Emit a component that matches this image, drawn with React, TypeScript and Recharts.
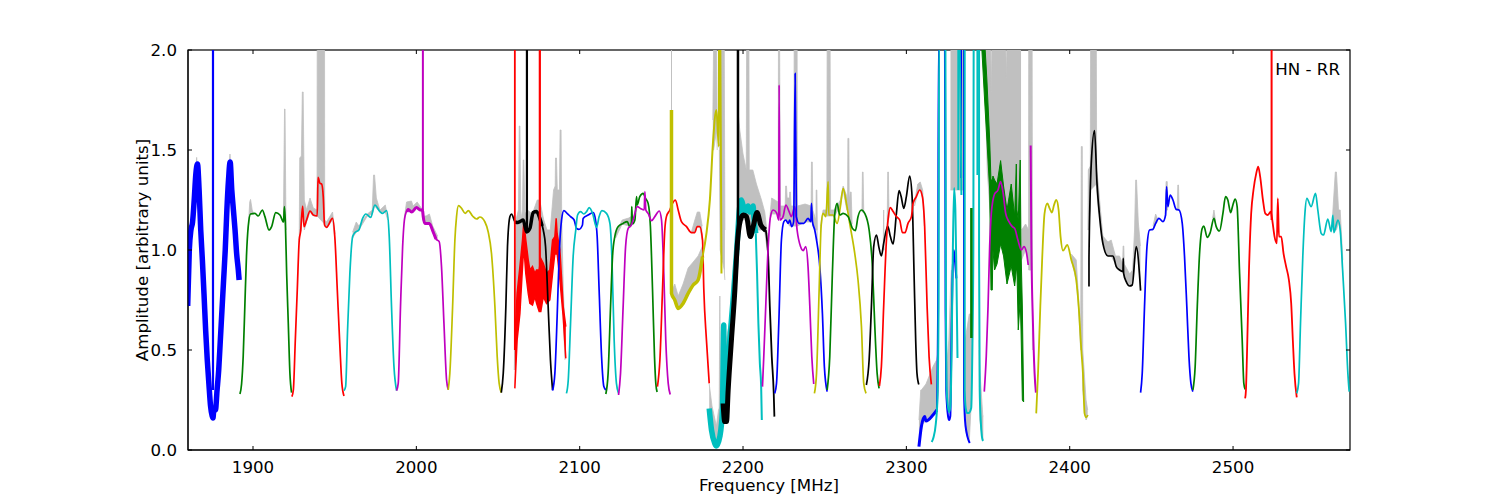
import React from 'react';
import { ComposedChart, Line, Area, XAxis, YAxis, Label, ReferenceLine } from 'recharts';

type P = [number, number];
type B = [number, number, number];

const xTicks = [1900, 2000, 2100, 2200, 2300, 2400, 2500];
const yTicks = [0, 0.5, 1, 1.5, 2];
const annotation = 'HN - RR';

// ---- grey envelope [freq, low, high]
const grayA: B[] = [[1863,1.15,1.2],[1865.5,1.4,1.463],[1868,1.1,1.15]];
const grayA2: B[] = [[1884,1.25,1.3],[1885.9,1.4,1.48],[1888,1.15,1.2]];
const grayB: B[] = [[1897,1.1,1.1],[1898,1.18,1.24],[1898.5,1.18,1.253],[1899.5,1.18,1.2],[1900.5,1.18,1.18]];
const grayC: B[] = [[1918.6,1.14,1.14],[1919.3,1.14,1.705],[1919.6,1.14,1.705],[1920.2,1.1,1.1]];
const grayD: B[] = [[1928.3,1.05,1.05],[1928.6,1.08,1.46],[1929.6,1.1,1.47],[1930.2,1.2,1.79],[1930.7,1.2,1.79],[1931.4,1.1,1.25],[1932.8,1.14,1.2],[1934.9,1.19,1.26],[1936.9,1.17,1.21],[1939.2,1.17,1.2],[1939.3,1.17,2.05],[1943.8,1.13,2.05],[1943.9,1.12,1.15],[1945,1.11,1.14],[1948.7,1.15,1.19],[1950.2,1.05,1.08]];
const grayE: B[] = [[1961,1.06,1.09],[1963.2,1.09,1.14],[1964.8,1.1,1.12],[1970,1.17,1.18],[1973,1.18,1.2],[1973.8,1.2,1.375],[1974.4,1.22,1.375],[1975.5,1.21,1.26],[1977.7,1.19,1.2],[1981,1.19,1.225],[1982.5,1.15,1.16]];
const grayF: B[] = [[1992.8,1.15,1.17],[1994,1.2,1.24],[1997,1.19,1.245],[1998,1.2,1.22],[2000.5,1.21,1.24],[2003,1.2,1.21],[2004.5,1.15,1.17],[2006,1.13,1.17],[2008,1.13,1.18],[2010,1.09,1.12],[2013,1.05,1.07]];
const grayG: B[] = [[2060,0.4,0.4],[2061,0.7,1.15],[2062.5,0.7,1.2],[2063,0.7,1.62],[2063.4,0.85,1.62],[2064,0.9,1.15],[2065,1.0,1.2],[2065.4,1.0,1.45],[2065.8,1.0,1.45],[2066.5,1.0,1.18],[2068,0.85,1.2],[2071,0.8,1.18],[2074,0.8,1.25],[2075.5,0.8,1.25],[2078,0.85,1.15],[2080,0.85,1.1],[2082,0.85,1.1],[2083,0.9,1.2],[2084,1,1.3],[2085,1,1.32],[2085.2,1,1.46],[2085.8,1,1.46],[2086.3,1,1.3],[2087.6,1,1.3],[2088,1,1.6],[2088.6,1,1.6],[2089,0.8,1.15],[2090,0.65,0.8],[2091,0.45,0.6]];
const grayH: B[] = [[2122,1.06,1.08],[2126,1.13,1.15],[2130,1.12,1.16],[2132,1.14,1.17]];
const grayI: B[] = [[2155.9,1.7,2.05],[2156.5,1.7,2.05]];
const grayJ: B[] = [[2156.8,0.78,0.8],[2158.2,0.75,0.83],[2160.3,0.71,0.77],[2163.3,0.73,0.83],[2166.4,0.78,0.91],[2169.5,0.82,0.94],[2172.5,0.85,0.97],[2175.2,0.97,1.02]];
const grayK: B[] = [[2168.4,1.087,1.09],[2170.5,1.087,1.15],[2172,1.117,1.19],[2173.5,1.117,1.19],[2175,1.05,1.12]];
const grayL: B[] = [[2181.5,1.5,1.65],[2182,1.5,2.05],[2183.8,1.6,2.05],[2184.2,1.5,1.6]];
const grayM: B[] = [[2185.5,1.5,2.05],[2186,1.0,2.05],[2188.5,0.9,2.05],[2188.9,0.85,1.1]];
const grayN: B[] = [[2185.4,0.2,0.2],[2185.8,0.2,0.77],[2186.2,0.2,0.2]];
const grayO: B[] = [[2179.3,0.1,0.33],[2181,0.1,0.22],[2183.7,0.02,0.12],[2185,0.1,0.2],[2187.5,0.2,0.24],[2188.5,0.3,0.5],[2192,0.55,0.65],[2194,0.78,0.9]];
const grayP: B[] = [[2197.2,1.1,1.67],[2198,1.15,1.6],[2200,1.15,1.48],[2202,1.15,1.4],[2202.2,1.15,2.05],[2203.6,1.15,2.05],[2203.8,1.15,1.4],[2206,1.1,1.4],[2208.2,1.1,1.33],[2211.3,1.1,1.25],[2213.3,1.09,1.19],[2214.8,1.0,1.08]];
const grayQ: B[] = [[2216.5,1.15,1.17],[2217.5,1.18,1.26],[2221.5,1.18,1.24],[2221.7,1.18,2.05],[2222.4,1.18,2.05],[2222.8,1.17,1.22],[2225.8,1.15,1.22],[2226.1,1.15,1.32],[2226.6,1.15,1.32],[2227,1.15,1.26],[2228.4,1.12,1.26],[2228.6,1.12,1.29],[2229,1.12,1.29],[2229.4,1.12,1.22],[2231.2,1.12,1.22],[2231.3,1.12,2.05],[2233.1,1.12,2.05],[2233.3,1.12,1.22],[2238,1.14,1.23],[2241.7,1.14,1.22],[2241.9,1.14,1.44],[2242.4,1.14,1.44],[2242.7,1.12,1.2],[2244.6,1.1,1.15],[2244.8,1.1,1.3],[2245.2,1.1,1.3],[2245.5,1.05,1.1]];
const grayR: B[] = [[2247.5,1.1,1.12],[2249,1.18,1.2],[2251.3,1.17,1.2],[2251.5,1.17,2.05],[2253.3,1.17,2.05],[2253.6,1.17,1.2],[2256,1.17,1.2],[2259.6,1.22,1.25],[2261.3,1.3,1.32],[2263.5,1.2,1.27],[2264,1.2,1.25],[2264.2,1.2,1.558],[2264.8,1.2,1.558],[2265,1.15,1.25],[2265.7,1.15,1.29],[2266.2,1.13,1.29],[2266.8,1.1,1.13]];
const grayS: B[] = [[2272.8,1.19,1.19],[2273.1,1.19,1.39],[2273.5,1.19,1.39],[2273.9,1.19,1.19]];
const grayT: B[] = [[2285.8,1,1],[2286.1,1,1.2],[2286.4,1,1]];
const grayU: B[] = [[2288.2,1.1,1.1],[2288.6,1.12,1.39],[2289,1.15,1.39],[2289.4,1.17,1.17]];
const grayV: B[] = [[2305,1.22,1.24],[2307,1.29,1.33],[2308.5,1.3,1.34],[2310,1.26,1.3],[2311,1.12,1.15]];
const grayW: B[] = [[2307.7,0.03,0.15],[2308.8,0.1,0.3],[2309.2,0.12,0.3],[2312,0.15,0.33],[2316.3,0.18,0.417],[2318.5,0.2,0.45],[2319.6,0.3,0.5]];
const grayX: B[] = [[2327,1.3,2.05],[2334,1.3,2.05],[2335.5,1.3,2.05]];
const grayY: B[] = [[2324.5,0.22,0.4],[2326,0.19,0.55],[2327,0.25,0.8],[2327.5,0.5,0.9]];
const grayZ: B[] = [[2336,0.1,0.55],[2338.5,0.04,0.68],[2339.5,0.2,0.68],[2340.3,0.4,0.6]];
const grayAA: B[] = [[2344.5,0.5,0.55],[2345,0.15,0.4],[2346.8,0.05,0.17],[2347.1,0.05,0.17]];
const grayAB: B[] = [[2348,1.9,2.05],[2349.5,1.4,2.05],[2351.6,1.15,2.05],[2352,1.15,1.79],[2352.4,1.15,2.05],[2360.8,1.15,2.05],[2361.2,1.15,1.86],[2361.6,1.15,2.05],[2370.2,1.1,2.05]];
const grayAC: B[] = [[2370.5,0.95,1.1],[2373,1.0,1.13],[2374.8,0.95,1.1],[2374.9,0.9,2.05],[2377,0.9,2.05],[2377.2,0.5,0.9]];
const grayAD: B[] = [[2401,0.95,0.98],[2404,0.85,0.95],[2405.5,0.7,0.75],[2406.7,0.5,0.55],[2407.1,0.5,1.517],[2407.7,0.5,1.517],[2408,0.3,0.5],[2410,0.15,0.25],[2411,0.17,0.2]];
const grayAE: B[] = [[2411.2,1.1,1.1],[2411.4,1.1,1.4],[2412.6,1.2,1.42],[2412.8,1.3,2.05],[2416.3,1.33,2.05],[2416.5,1.3,1.4],[2417.5,1.2,1.33],[2418.5,1.17,1.23],[2420.3,1.03,1.07],[2423.4,0.97,1.04],[2425.4,0.97,1.05],[2428,0.93,0.97],[2430.5,0.9,0.97],[2432.4,0.89,0.93],[2432.7,0.89,1.02],[2433.1,0.89,1.02],[2433.4,0.87,0.93],[2436.7,0.82,0.88],[2438.5,0.83,0.9],[2439.7,0.93,1.1],[2440.4,1.02,1.35],[2440.9,1.02,1.35],[2442,0.97,1.14],[2443.3,0.8,1.02]];
const grayAF: B[] = [[2451,1.1,1.12],[2452.6,1.13,1.18],[2453.6,1.14,1.16]];
const grayAG: B[] = [[2458.5,1.17,1.18],[2459,1.2,1.342],[2459.7,1.2,1.342],[2460.1,1.2,1.22]];
const grayAH: B[] = [[2465.8,1.2,1.2],[2466.2,1.2,1.325],[2466.6,1.2,1.325],[2467,1.2,1.2]];
const grayAI: B[] = [[2487.5,1.15,1.16],[2488.3,1.16,1.2],[2489.2,1.13,1.15]];
const grayAJ: B[] = [[2561,1.1,1.18],[2562.6,1.1,1.39],[2563.3,1.1,1.39],[2564.6,1.14,1.2],[2565.6,1.1,1.2],[2567.2,0.88,0.95]];

// ---- solid noise bands
const greenBand: B[] = [[2345.9,2.05,2.05],[2347.9,1.75,2.05],[2349.3,1.55,1.85],[2351,1.3,1.55],[2351.8,0.8,1.35],[2352.6,0.8,1.35],[2353,1.0,1.37],[2354,0.9,1.35],[2355.5,0.93,1.33],[2357.7,1.03,1.447],[2359.5,0.97,1.32],[2361.6,0.83,1.2],[2364.2,0.92,1.33],[2366.3,0.82,1.17],[2367.3,0.9,1.43],[2367.7,0.9,1.2],[2368.5,0.6,1.15],[2369.7,0.75,1.45],[2370.2,0.6,1.0],[2371,0.25,0.72],[2371.8,0.24,0.24]];
const redBand: B[] = [[2060.3,0.308,0.55],[2061.7,0.55,0.783],[2063.4,0.683,0.917],[2065,0.917,1.05],[2065.8,1.017,1.142],[2067,0.883,1.05],[2068.5,0.783,0.95],[2069.5,0.733,0.9],[2071.1,0.725,0.917],[2072.6,0.767,0.883],[2073.6,0.733,0.9],[2075.2,0.692,0.9],[2076.2,0.692,0.958],[2077.7,0.767,0.933],[2079.7,0.733,0.883],[2081.7,0.75,0.9],[2083.4,0.883,1.05],[2084.8,0.983,1.067],[2085.6,0.98,1.158],[2086.2,0.983,1.08],[2087.9,0.85,1.0],[2089.9,0.667,0.717],[2091.5,0.458,0.617]];

// ---- traces [freq, amplitude]
const blue1: P[] = [[1860,0.72],[1861,1.0],[1862,1.1],[1863,1.14],[1864,1.25],[1865,1.38],[1866,1.43],[1867,1.3],[1868,1.1],[1869,0.95],[1870,0.78],[1871,0.6],[1872,0.45],[1873,0.33],[1874,0.22],[1875,0.17],[1875.5,0.16],[1876,0.2],[1877,0.2],[1878,0.3],[1879,0.4],[1880,0.55],[1881,0.7],[1882,0.85],[1883,1.0],[1884,1.2],[1885,1.35],[1886,1.44],[1887,1.3],[1888,1.2],[1889,1.1],[1890,0.98],[1891,0.9],[1891.5,0.85]];
const blueSpike: P[] = [[1875.5,0.3],[1875.5,2.5]];
const green1: P[] = [[1892,0.28],[1893,0.33],[1894,0.47],[1895,0.72],[1896,0.97],[1897.1,1.12],[1898.5,1.18],[1901.2,1.183],[1903.2,1.17],[1905.7,1.2],[1907.3,1.167],[1909.8,1.1],[1911.4,1.117],[1913.9,1.187],[1916.5,1.175],[1918.7,1.14],[1919.2,1.217],[1919.8,1.14],[1920.6,0.883],[1921.6,0.633],[1922.6,0.383],[1923.6,0.287]];
const red1: P[] = [[1923.8,0.267],[1924.7,0.3],[1925.9,0.55],[1927.1,0.8],[1928.3,1.05],[1929.1,1.09],[1930.4,1.22],[1931.2,1.117],[1932.8,1.15],[1934.9,1.195],[1936.9,1.175],[1939.3,1.17],[1939.8,1.363],[1941,1.333],[1942,1.33],[1943,1.267],[1943.8,1.125],[1945,1.113],[1948.7,1.158],[1950.2,1.05],[1951.6,0.8],[1953.2,0.517],[1954.4,0.333],[1955.7,0.27]];
const cyan1: P[] = [[1955.7,0.297],[1956.7,0.317],[1957.9,0.6],[1959.3,0.883],[1961,1.067],[1962.4,1.087],[1964.8,1.1],[1967.1,1.158],[1969.1,1.18],[1972,1.163],[1974.6,1.225],[1977.7,1.192],[1979.3,1.183],[1981.8,1.197],[1983.4,1.067],[1984.8,0.717],[1986.3,0.417],[1987.9,0.297]];
const magenta1: P[] = [[1987.9,0.297],[1988.9,0.333],[1990.3,0.717],[1991.6,1.017],[1993,1.167],[1995,1.203],[1997.1,1.19],[2000.1,1.212],[2002.6,1.2],[2003.8,1.2],[2004.2,1.167],[2005.2,1.133],[2007.9,1.133],[2010.3,1.09],[2012,1.055],[2014,1.042],[2015.4,0.917],[2016.9,0.633],[2018.5,0.35],[2019.5,0.303]];
const magenta1Thick: P[] = [[1994.2,1.19],[1995,1.203],[1997.1,1.19],[2000.1,1.212],[2002.6,1.2],[2003.8,1.2],[2004.2,1.167],[2005.2,1.133],[2007.9,1.133],[2010.3,1.09],[2012,1.055]];
const magentaSpike: P[] = [[2004,1.2],[2004,2.5]];
const yellow1: P[] = [[2019.5,0.3],[2020.5,0.383],[2022.2,0.717],[2023.6,1.05],[2024.6,1.167],[2025.8,1.222],[2027.7,1.208],[2029.9,1.183],[2031.8,1.197],[2034.4,1.17],[2036.9,1.155],[2038.9,1.165],[2042,1.14],[2044,1.09],[2046,0.983],[2048.1,0.717],[2049.5,0.467],[2050.7,0.333],[2052,0.287]];
const black1: P[] = [[2052,0.287],[2053.2,0.383],[2054.8,0.717],[2055.8,1.017],[2057.3,1.167],[2058.3,1.18],[2060.3,1.142],[2061.3,1.137],[2063.4,1.142],[2065.4,1.15],[2067.5,1.09],[2069.5,1.108],[2071.5,1.187],[2073.6,1.192],[2075.6,1.158],[2077.7,1.1],[2079.1,1.017],[2080.7,0.717],[2082.1,0.45],[2083.4,0.3]];
const black1Thick: P[] = [[2060.3,1.142],[2061.3,1.137],[2063.4,1.142],[2065.4,1.15],[2067.5,1.09],[2069.5,1.108],[2071.5,1.187],[2073.6,1.192],[2075.6,1.158],[2077,1.12]];
const blackSpike1: P[] = [[2067.7,1.1],[2067.7,2.5]];
const blue2: P[] = [[2083.4,0.297],[2084.8,0.383],[2086.2,0.667],[2087.5,0.983],[2088.9,1.15],[2090.3,1.197],[2092.3,1.183],[2094.4,1.167],[2096.6,1.15],[2098.1,1.108],[2099.5,1.103],[2101.7,1.125],[2102.1,1.158],[2105.2,1.175],[2108.3,1.187],[2109.3,1.167],[2110.7,1.067],[2111.9,0.8],[2113.4,0.467],[2114.8,0.317],[2116,0.3]];
const cyan2: P[] = [[2091.9,0.283],[2093,0.35],[2094.4,0.633],[2096,0.967],[2097.6,1.1],[2098.7,1.175],[2100.5,1.192],[2102.5,1.18],[2104.2,1.192],[2105.8,1.212],[2107.9,1.183],[2110.3,1.113],[2111.9,1.167],[2113.6,1.197],[2116.4,1.183],[2118.5,1.133],[2119.7,0.967],[2121.1,0.55],[2122.5,0.333],[2123.8,0.283]];
const green2: P[] = [[2116,0.28],[2117.4,0.383],[2118.9,0.717],[2120.1,0.967],[2121.5,1.067],[2123.6,1.117],[2126.6,1.133],[2129.1,1.142],[2130.7,1.117],[2131.7,1.142],[2131.9,1.217],[2132.3,1.13],[2133.8,1.15],[2134.8,1.267],[2135.2,1.225],[2136.8,1.267],[2138.9,1.283],[2140.3,1.258],[2141.9,1.233],[2143.3,1.117],[2144.6,0.8],[2145.8,0.467],[2146.6,0.333],[2147.4,0.29]];
const magenta2: P[] = [[2123.8,0.275],[2125,0.383],[2126.6,0.717],[2128.1,1.017],[2129.7,1.108],[2131.7,1.125],[2133.3,1.167],[2135.2,1.217],[2137.2,1.208],[2139.5,1.2],[2139.9,1.292],[2140.5,1.2],[2141.9,1.183],[2144,1.147],[2146,1.167],[2148.7,1.195],[2150.1,1.15],[2151.5,0.883],[2152.7,0.55],[2154.2,0.333],[2155.4,0.278]];
const red3: P[] = [[2147.6,0.317],[2149.1,0.45],[2150.7,0.8],[2152.1,1.1],[2153.1,1.167],[2155.2,1.2],[2156.8,1.233],[2158.6,1.25],[2160.3,1.2],[2162.3,1.142],[2165.4,1.117],[2168.4,1.087],[2170.5,1.087],[2171.9,1.117],[2173.5,1.117],[2175.2,1.05],[2176,0.8],[2177.6,0.55],[2179.3,0.333]];
const redSpike1: P[] = [[2060.3,0.5],[2060.3,2.5]];
const redSpike2: P[] = [[2075.6,0.8],[2075.6,2.5]];
const yellow2a: P[] = [[2156.2,1.7],[2156.2,0.783],[2158.2,0.75],[2160.3,0.708],[2163.3,0.733],[2166.4,0.783],[2169.5,0.825],[2172.5,0.85],[2175.2,0.967]];
const yellow2b: P[] = [[2175.2,0.967],[2177.6,1.083],[2179.7,1.25],[2181.7,1.55],[2183.7,1.7],[2185.2,1.517],[2185.4,2.5],[2185.8,2.5],[2186.8,0.883]];
const cyan3: P[] = [[2179.3,0.208],[2180.7,0.1],[2182.7,0.033],[2183.7,0.02],[2185.8,0.067],[2187.4,0.2],[2188.2,0.625],[2188.4,0.233],[2189.9,0.317],[2191.9,0.55],[2193.9,0.75],[2196,0.983],[2198,1.217],[2199,1.25],[2200.1,1.22],[2201.1,1.19],[2203.1,1.22],[2204.1,1.19],[2206.2,1.22],[2206.6,1.167],[2207.8,1.083]];
const cyan3b: P[] = [[2207.8,1.083],[2208.6,0.883],[2209.4,0.633],[2210.3,0.433],[2211.1,0.317],[2211.5,0.15]];
const black2: P[] = [[2187.8,0.233],[2188.8,0.142],[2189.9,0.142],[2190.9,0.3],[2192.9,0.55],[2195,0.8],[2196.4,1.017],[2198.4,1.15],[2200.1,1.175],[2202.1,1.167],[2204.5,1.067],[2206.2,1.117],[2208.6,1.187],[2210.9,1.125],[2213.9,1.1]];
const black2b: P[] = [[2213.9,1.1],[2215.4,0.967],[2216.4,0.717],[2217.6,0.467],[2218.8,0.283],[2219.2,0.167]];
const blackSpike2: P[] = [[2196.9,1.0],[2196.9,2.5]];
const magenta3: P[] = [[2211.9,0.317],[2212.7,0.467],[2213.9,0.717],[2215.4,1.017],[2216.8,1.167],[2218.4,1.2],[2220.5,1.187],[2221.9,1.15],[2222.1,1.825],[2222.5,1.15],[2224.5,1.167],[2226.2,1.225],[2228.2,1.192],[2229.6,1.167],[2231.7,1.217],[2233.1,1.1],[2235.2,1.017],[2236.8,0.997],[2238.4,1.017],[2239.8,0.917],[2240.9,0.717],[2242.1,0.467],[2243.3,0.33]];
const blue3: P[] = [[2219.4,0.283],[2220.5,0.333],[2221.9,0.633],[2223.5,1.05],[2225,1.142],[2226.2,1.15],[2227.6,1.133],[2228.6,1.15],[2229.8,1.117],[2231,1.142],[2231.9,1.883],[2232.7,1.167],[2234.3,1.133],[2237.2,1.133],[2239.8,1.158],[2241.5,1.142],[2241.9,1.233],[2242.5,1.142],[2243.9,1.1],[2245,1.05],[2247,0.917],[2248.6,0.683],[2249.8,0.417],[2251.5,0.292]];
const yellow3: P[] = [[2243.7,0.283],[2245,0.383],[2246.6,0.8],[2247.8,1.117],[2249,1.183],[2250.7,1.167],[2252.1,1.342],[2252.5,1.175],[2255.1,1.175],[2257.6,1.133],[2259.6,1.217],[2261.3,1.308],[2263.3,1.233],[2265.3,1.133],[2268.4,0.983],[2270.4,0.85],[2272.5,0.617],[2273.9,0.333],[2275.3,0.283]];
const green3: P[] = [[2251.5,0.3],[2253.1,0.467],[2254.7,0.883],[2256.2,1.183],[2257.6,1.233],[2259.2,1.175],[2261.3,1.183],[2264.3,1.167],[2267,1.108],[2268.8,1.097],[2270.4,1.167],[2272.5,1.2],[2274.5,1.183],[2277.2,1.1],[2279.2,0.917],[2280.6,0.633],[2282.1,0.383],[2283.3,0.308]];
const black3: P[] = [[2275.5,0.325],[2277.2,0.45],[2278.6,0.717],[2280,1.017],[2281.7,1.075],[2283.1,1.017],[2284.7,0.97],[2286.1,1.033],[2288.6,1.12],[2290.2,1.067],[2291.9,1.03],[2293.9,1.183],[2295.5,1.297],[2296.8,1.267],[2298.4,1.208],[2300,1.267],[2302,1.37],[2303.5,1.267],[2304.7,0.883],[2305.7,0.55],[2306.5,0.383],[2307.6,0.328]];
const red4: P[] = [[2283.5,0.32],[2284.7,0.417],[2286.1,0.717],[2287.8,1.05],[2289,1.167],[2290.2,1.212],[2291.9,1.192],[2293.9,1.167],[2295.9,1.15],[2297.6,1.087],[2299.2,1.087],[2301,1.133],[2303.1,1.167],[2304.1,1.233],[2306.1,1.267],[2308.2,1.3],[2309.8,1.267],[2311.2,1.117],[2312.7,0.717],[2313.9,0.467],[2315.3,0.328]];
const blue4a: P[] = [[2307.7,0.017],[2309.2,0.117],[2311.2,0.167],[2312,0.145],[2316.3,0.175],[2318.7,0.2]];
const blue4b: P[] = [[2318.7,0.2],[2319.4,0.7],[2319.8,2.05],[2323.6,2.05],[2324,0.7],[2324.4,0.3],[2325.5,0.17],[2326.2,0.15],[2326.9,0.17],[2327.5,0.5],[2328.2,0.85],[2329,1.0],[2329.7,0.95],[2330.6,0.858]];
const blue5: P[] = [[2333.5,1.36],[2333.5,2.05],[2335.3,2.05],[2335.3,0.3],[2335.9,0.15],[2336.8,0.09],[2338,0.05],[2338.8,0.035]];
const cyan4: P[] = [[2315.5,0.04],[2316.5,0.06],[2318,0.13],[2319,0.25],[2319.7,0.7],[2320,2.05],[2323.9,2.05],[2324.2,0.7],[2324.6,0.32],[2325.4,0.22],[2326.2,0.19],[2327,0.22],[2327.7,0.5],[2328.3,0.9],[2329.2,1.31],[2330,1.2],[2330.6,0.9],[2331.3,0.46]];
const cyan5: P[] = [[2331.8,2.05],[2331.8,1.3]];
const cyan6: P[] = [[2332.6,2.05],[2333.2,1.7],[2333.7,1.275]];
const cyan7: P[] = [[2335.7,2.05],[2335.7,0.3],[2336.3,0.21],[2337.2,0.185],[2338.1,0.185],[2339.7,0.21],[2340.4,0.5],[2341,1.0],[2341.2,2.05]];
const cyan8: P[] = [[2343.5,2.05],[2343.5,1.375]];
const cyan9: P[] = [[2344.5,2.05],[2344.5,1.0],[2344.9,0.3],[2345.5,0.15],[2346.2,0.07],[2346.9,0.045]];
const green4: P[] = [[2339.8,1.21],[2339.8,0.56]];
const magenta4: P[] = [[2347.7,0.292],[2348.9,0.467],[2350,0.717],[2351,1.017],[2352,1.183],[2354,1.28],[2356.1,1.3],[2357.7,1.342],[2359.1,1.292],[2360.8,1.183],[2362.8,1.142],[2364.9,1.117],[2366.3,1.108],[2368.3,1.05],[2370.4,1.0],[2372,1.017],[2373.4,0.992],[2374.6,0.925]];
const magenta5: P[] = [[2376.1,1.523],[2376.5,1.05],[2377.5,0.633],[2378.5,0.383],[2379.3,0.287]];
const yellow4: P[] = [[2379.5,0.183],[2380.6,0.383],[2382,0.717],[2383.2,0.967],[2384.6,1.183],[2386.3,1.233],[2387.7,1.208],[2389.1,1.187],[2390.4,1.225],[2391.8,1.25],[2393.2,1.2],[2394.4,1.067],[2395.9,0.997],[2398.5,1.025],[2401,0.95],[2404,0.85],[2405.5,0.717],[2407.1,0.5],[2408.1,0.383],[2409.1,0.183],[2410.1,0.163],[2411.1,0.175]];
const black4: P[] = [[2411.8,0.817],[2411.8,0.96],[2413.2,1.433],[2415.2,1.597],[2416.7,1.333],[2418.3,1.167],[2420.3,1.033],[2423.4,0.97],[2426.5,0.97],[2428.5,0.917],[2430.5,0.9],[2432.6,0.892],[2432.8,0.958],[2433,0.883],[2434.6,0.842],[2436.7,0.82],[2438.3,0.825],[2440.7,1.017],[2443.4,0.797]];
const blue6: P[] = [[2443.4,0.287],[2444.4,0.383],[2445.8,0.717],[2447.3,1.017],[2448.9,1.1],[2450.9,1.103],[2452.6,1.133],[2454.6,1.158],[2457.1,1.142],[2458.7,1.175],[2459.3,1.317],[2460.1,1.217],[2461.5,1.275],[2463.2,1.25],[2465.2,1.203],[2466.9,1.2],[2468.9,1.133],[2470.3,0.967],[2471.7,0.717],[2473,0.467],[2474.2,0.333],[2475.4,0.292]];
const green5: P[] = [[2475.4,0.3],[2476.8,0.417],[2478.1,0.717],[2479.5,0.983],[2481.1,1.108],[2482.1,1.12],[2484.2,1.063],[2486,1.087],[2488.3,1.158],[2489.7,1.117],[2491.7,1.095],[2493.8,1.183],[2495.4,1.267],[2496.8,1.25],[2498.5,1.187],[2499.9,1.225],[2501.3,1.255],[2502.5,1.217],[2504,0.883],[2505.6,0.55],[2506.6,0.333],[2507.4,0.303]];
const red5: P[] = [[2507.4,0.258],[2507.9,0.3],[2508.5,0.467],[2509.7,0.883],[2511.1,1.183],[2512.5,1.3],[2514.2,1.383],[2515.4,1.417],[2516.6,1.367],[2518.3,1.25],[2519.7,1.183],[2521.3,1.175],[2523.1,1.192],[2524,1.15],[2525.4,1.067],[2526.8,1.033],[2527.4,1.258],[2528.1,1.067],[2529.5,1.067],[2530.9,0.983],[2532.5,0.917],[2534.2,0.85],[2535.6,0.733],[2536.6,0.55],[2537.6,0.383],[2539,0.263]];
const redSpike3: P[] = [[2523.6,1.15],[2523.6,2.5]];
const cyan10: P[] = [[2539,0.283],[2540.1,0.333],[2541.3,0.633],[2542.7,0.967],[2544,1.183],[2545.2,1.258],[2547.8,1.217],[2550.5,1.283],[2551.9,1.2],[2554,1.083],[2555.4,1.075],[2558,1.155],[2560.1,1.092],[2561.1,1.175],[2561.7,1.087],[2564.2,1.15],[2565.6,1.1],[2567.2,0.883],[2568.9,0.633],[2570.3,0.383],[2571.1,0.292]];

const C = { b: '#0000ff', g: '#008000', r: '#ff0000', c: '#00bfbf', m: '#bf00bf', y: '#bfbf00', k: '#000000', gray: '#c0c0c0' };

const toBand = (rows: B[]) => rows.map(([f, lo, hi]) => ({ f, band: [lo, hi] }));
const toLine = (rows: P[]) => rows.map(([f, a]) => ({ f, a }));

const grays = [grayA, grayA2, grayB, grayC, grayD, grayE, grayF, grayG, grayH, grayI, grayJ, grayK, grayL, grayM, grayN, grayO, grayP, grayQ, grayR, grayS, grayT, grayU, grayV, grayW, grayX, grayY, grayZ, grayAA, grayAB, grayAC, grayAD, grayAE, grayAF, grayAG, grayAH, grayAI, grayAJ];

const TH = 1.7;
const traces: [P[], string, number][] = [
  [blue1, C.b, 5.5], [blueSpike, C.b, 2.2],
  [green1, C.g, TH], [red1, C.r, TH], [cyan1, C.c, TH],
  [magenta1, C.m, TH], [magenta1Thick, C.m, 3], [magentaSpike, C.m, 2],
  [yellow1, C.y, TH], [black1, C.k, TH], [black1Thick, C.k, 3.5], [blackSpike1, C.k, 2.2],
  [blue2, C.b, TH], [cyan2, C.c, TH], [green2, C.g, TH], [magenta2, C.m, TH], [red3, C.r, TH],
  [redSpike1, C.r, 1.8], [redSpike2, C.r, 2.2],
  [yellow2a, C.y, 3.5], [yellow2b, C.y, 2],
  [cyan3, C.c, 5.5], [cyan3b, C.c, 2], [black2, C.k, 5], [black2b, C.k, 1.8], [blackSpike2, C.k, 2.5],
  [magenta3, C.m, TH], [blue3, C.b, TH], [yellow3, C.y, TH], [green3, C.g, TH], [black3, C.k, TH], [red4, C.r, TH],
  [blue4a, C.b, 3], [blue4b, C.b, 2], [blue5, C.b, 2],
  [cyan4, C.c, 2], [cyan5, C.c, 2], [cyan6, C.c, 2], [cyan7, C.c, 2], [cyan8, C.c, 2], [cyan9, C.c, 2],
  [green4, C.g, 2.5],
];
const tracesAfterBand: [P[], string, number][] = [
  [magenta4, C.m, TH], [magenta5, C.m, 2], [yellow4, C.y, 1.8], [black4, C.k, TH],
  [blue6, C.b, TH], [green5, C.g, TH], [red5, C.r, 1.8], [redSpike3, C.r, 2], [cyan10, C.c, TH],
];

const FONT = '"DejaVu Sans", sans-serif';
const FS = 16.67;
const XMIN = 1860.2;
const XMAX = 2571.6;
const DOMAIN: [number, number] = [XMIN, XMAX];
const X_TICK_LEN = 2.45; // 4 px along the frequency axis
const Y_TICK_LEN = 0.02; // 4 px along the amplitude axis
const fmtY = (v: number) => v.toFixed(1);

const tickSeg = (a: { x: number; y: number }, b: { x: number; y: number }, key: string) => (
  <ReferenceLine key={key} segment={[a, b]} stroke="#000" strokeWidth={1} ifOverflow="visible" />
);

export default function App() {
  return (
    <div style={{ position: 'absolute', left: 0, top: 0, width: 1500, height: 500, background: '#fff' }}>
      <ComposedChart width={1500} height={500} margin={{ top: 50, right: 150, bottom: 0, left: 128 }} style={{ fontFamily: FONT }}>
        <XAxis type="number" dataKey="f" domain={DOMAIN} ticks={xTicks} allowDataOverflow height={50}
          stroke="#000" tickLine={false} tickMargin={5} interval={0}
          tick={{ fill: '#000', fontSize: FS, fontFamily: FONT }} axisLine={{ stroke: '#000', strokeWidth: 1 }}>
          <Label value="Frequency [MHz]" position="insideBottom" offset={9} style={{ fontSize: FS, fontFamily: FONT, fill: '#000' }} />
        </XAxis>
        <YAxis type="number" domain={[0, 2]} ticks={yTicks} allowDataOverflow width={60}
          stroke="#000" tickLine={false} tickMargin={5} tickFormatter={fmtY} interval={0}
          tick={{ fill: '#000', fontSize: FS, fontFamily: FONT }}>
          <Label value="Amplitude [arbitrary units]" angle={-90} position="insideLeft" offset={14} style={{ fontSize: FS, fontFamily: FONT, fill: '#000', textAnchor: 'middle' }} />
        </YAxis>

        {grays.map((g, i) => (
          <Area key={'g' + i} data={toBand(g)} dataKey="band" type="linear" stroke={C.gray} strokeWidth={0.8} fill={C.gray} fillOpacity={1}
            dot={false} activeDot={false} isAnimationActive={false} legendType="none" />
        ))}
        {traces.map(([pts, color, w], i) => (
          <Line key={'t' + i} data={toLine(pts)} dataKey="a" type="monotone" stroke={color} strokeWidth={w} strokeLinejoin="round" dot={false} activeDot={false} isAnimationActive={false} legendType="none" />
        ))}
        <Area data={toBand(redBand)} dataKey="band" type="linear" stroke={C.r} strokeWidth={1.5} fill={C.r} fillOpacity={1} dot={false} activeDot={false} isAnimationActive={false} legendType="none" />
        <Area data={toBand(greenBand)} dataKey="band" type="linear" stroke={C.g} strokeWidth={1} fill={C.g} fillOpacity={1} dot={false} activeDot={false} isAnimationActive={false} legendType="none" />
        {tracesAfterBand.map(([pts, color, w], i) => (
          <Line key={'u' + i} data={toLine(pts)} dataKey="a" type="monotone" stroke={color} strokeWidth={w} strokeLinejoin="round" dot={false} activeDot={false} isAnimationActive={false} legendType="none" />
        ))}

        {xTicks.map((t) => tickSeg({ x: t, y: 0 }, { x: t, y: Y_TICK_LEN }, 'xb' + t))}
        {xTicks.map((t) => tickSeg({ x: t, y: 2 }, { x: t, y: 2 - Y_TICK_LEN }, 'xt' + t))}
        {yTicks.map((t) => tickSeg({ x: XMIN, y: t }, { x: XMIN + X_TICK_LEN, y: t }, 'yl' + t))}
        {yTicks.map((t) => tickSeg({ x: XMAX, y: t }, { x: XMAX - X_TICK_LEN, y: t }, 'yr' + t))}
        <rect x={188} y={50} width={1162} height={400} fill="none" stroke="#000" strokeWidth={1.2} />
        <text x={1340} y={75} textAnchor="end" style={{ fontSize: FS, fontFamily: FONT, fill: '#000' }}>{annotation}</text>
      </ComposedChart>
    </div>
  );
}
